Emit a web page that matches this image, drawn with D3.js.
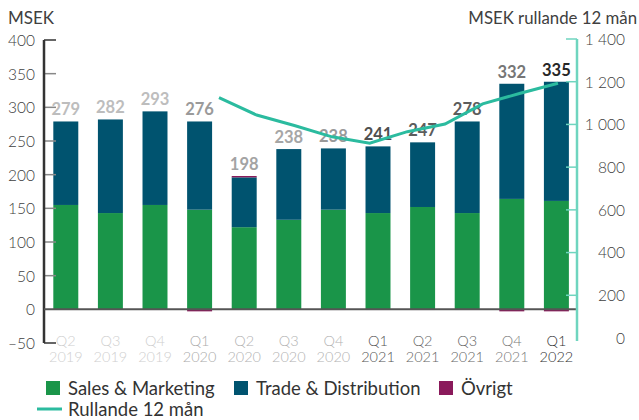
<!DOCTYPE html>
<html>
<head>
<meta charset="utf-8">
<script src="https://cdn.jsdelivr.net/npm/d3@7"></script>
<style>
  body { margin: 0; background: #fff; }
  svg { display: block; font-family: Lato, "Open Sans", sans-serif; }
</style>
</head>
<body>
<div id="chart"></div>
<script>
// data
const quarters = ["Q2 2019", "Q3 2019", "Q4 2019", "Q1 2020", "Q2 2020", "Q3 2020",
  "Q4 2020", "Q1 2021", "Q2 2021", "Q3 2021", "Q4 2021", "Q1 2022"];
const salesMarketing = [155, 143, 155, 148, 122, 133, 148, 143, 152, 143, 164, 161];
const tradeDistribution = [124, 139, 139, 131, 74, 105, 91, 99, 96, 136, 171, 177];
const ovrigt = [0, 0, -1, -3, 2, 0, -1, -1, -1, -1, -3, -3];
const totals = [279, 282, 293, 276, 198, 238, 238, 241, 247, 278, 332, 335];
const rolling12 = [1125, 1044, 995, 942, 912, 966, 1002, 1096, 1146, 1193];
const leftTicks = [-50, 0, 50, 100, 150, 200, 250, 300, 350, 400];
const rightTicks = [0, 200, 400, 600, 800, 1000, 1200, 1400];
const seriesNames = ["Sales & Marketing", "Trade & Distribution", "Övrigt"];
const lineName = "Rullande 12 mån";

// styles
const colors = ["#1a9549", "#00536f", "#8a1a5b"];
const lineColor = "#2bbb9f";
const axisTeal = "#6fd5bf";
const valueShade = ["#bdbdbd", "#bdbdbd", "#bdbdbd", "#9a9a9a", "#a3a3a3", "#a6a6a6",
  "#9a9a9a", "#4f4f4f", "#5c5c5c", "#5c5c5c", "#767676", "#262626"];
const tickShade = ["#cfcfcf", "#cfcfcf", "#cfcfcf", "#ababab", "#b3b3b3", "#b3b3b3",
  "#b3b3b3", "#555", "#666", "#666", "#7a7a7a", "#333"];

const width = 639, height = 420;
const svg = d3.select("#chart").append("svg")
  .attr("width", width).attr("height", height);

// scales
const x = d3.scaleBand().domain(quarters).range([43.5, 578.7])
  .paddingInner(0.44).paddingOuter(0.22);
const yL = d3.scaleLinear().domain([-50, 400]).range([343, 40]);
const yR = d3.scaleLinear().domain([0, 1400]).range([338, 39]);
const xLine = d3.scaleLinear().domain([0, rolling12.length - 1]).range([219, 558]);

// stacked bars
const rows = quarters.map((q, i) => ({
  q, s0: salesMarketing[i], s1: tradeDistribution[i], s2: ovrigt[i]
}));
const stack = d3.stack().keys(["s0", "s1", "s2"]).offset(d3.stackOffsetDiverging);
const layers = stack(rows);

svg.append("g").selectAll("g")
  .data(layers).join("g")
  .attr("fill", (d, i) => colors[i])
  .selectAll("rect")
  .data(d => d).join("rect")
  .attr("x", d => x(d.data.q))
  .attr("width", x.bandwidth())
  .attr("y", d => yL(Math.max(d[0], d[1])))
  .attr("height", d => Math.abs(yL(d[0]) - yL(d[1])));

// value labels
svg.append("g").selectAll("text")
  .data(quarters).join("text")
  .attr("x", d => x(d) + x.bandwidth() / 2)
  .attr("y", (d, i) => yL(salesMarketing[i] + tradeDistribution[i] + Math.max(ovrigt[i], 0)) - 6)
  .attr("text-anchor", "middle")
  .attr("font-size", 16.5)
  .attr("font-weight", 700)
  .attr("fill", (d, i) => valueShade[i])
  .text((d, i) => totals[i]);

// left axis
const left = svg.append("g");
left.selectAll("line.tick")
  .data(leftTicks.filter(t => t !== 0)).join("line")
  .attr("x1", 44).attr("x2", 56)
  .attr("y1", d => yL(d)).attr("y2", d => yL(d))
  .attr("stroke", d => (d === 400 || d === -50) ? "#333" : "#888")
  .attr("stroke-width", 1.5);
left.append("line")
  .attr("x1", 44).attr("x2", 44)
  .attr("y1", yL(400)).attr("y2", yL(-50))
  .attr("stroke", "#333").attr("stroke-width", 2.5);
left.selectAll("text")
  .data(leftTicks).join("text")
  .attr("x", 35)
  .attr("y", d => yL(d))
  .attr("dy", "0.38em")
  .attr("text-anchor", "end")
  .attr("font-size", 15.5)
  .attr("font-weight", 300)
  .attr("fill", "#404040")
  .text(d => d < 0 ? "–" + Math.abs(d) : d);
svg.append("text")
  .attr("x", 8).attr("y", 24)
  .attr("font-size", 17).attr("fill", "#404040")
  .text("MSEK");

// zero line
svg.append("line")
  .attr("x1", 44).attr("x2", 577)
  .attr("y1", yL(0)).attr("y2", yL(0))
  .attr("stroke", "#555").attr("stroke-width", 2);

// right axis
const fmt = d3.formatLocale({ decimal: ",", thousands: " ", grouping: [3], currency: ["", ""] }).format(",d");
const right = svg.append("g");
right.selectAll("line")
  .data(rightTicks.filter(t => t > 0)).join("line")
  .attr("x1", 566).attr("x2", 577)
  .attr("y1", d => yR(d)).attr("y2", d => yR(d))
  .attr("stroke", axisTeal).attr("stroke-width", 1.5);
right.append("line")
  .attr("x1", 577).attr("x2", 577)
  .attr("y1", yR(1400)).attr("y2", yR(0) + 3)
  .attr("stroke", axisTeal).attr("stroke-width", 2.5);
right.selectAll("text")
  .data(rightTicks).join("text")
  .attr("x", 625)
  .attr("y", d => yR(d))
  .attr("dy", "0.38em")
  .attr("text-anchor", "end")
  .attr("font-size", 15.5)
  .attr("font-weight", 300)
  .attr("fill", "#404040")
  .text(d => fmt(d));
svg.append("text")
  .attr("x", 637).attr("y", 24)
  .attr("text-anchor", "end")
  .attr("font-size", 16.8).attr("fill", "#404040")
  .text("MSEK rullande 12 mån");

// rolling line
const line = d3.line()
  .x((d, i) => xLine(i))
  .y(d => yR(d));
svg.append("path")
  .datum(rolling12)
  .attr("d", line)
  .attr("fill", "none")
  .attr("stroke", lineColor)
  .attr("stroke-width", 3);

// x labels
const xl = svg.append("g").selectAll("text")
  .data(quarters).join("text")
  .attr("text-anchor", "middle")
  .attr("font-size", 14.5)
  .attr("font-weight", 300)
  .attr("fill", (d, i) => tickShade[i]);
xl.append("tspan")
  .attr("x", d => x(d) + x.bandwidth() / 2).attr("y", 346)
  .text(d => d.split(" ")[0]);
xl.append("tspan")
  .attr("x", d => x(d) + x.bandwidth() / 2).attr("y", 362)
  .text(d => d.split(" ")[1]);

// legend
const legendX = [46, 234, 439];
const leg = svg.append("g").selectAll("g")
  .data(seriesNames).join("g")
  .attr("transform", (d, i) => `translate(${legendX[i]},381)`);
leg.append("rect")
  .attr("width", 14).attr("height", 14)
  .attr("fill", (d, i) => colors[i]);
leg.append("text")
  .attr("x", 22).attr("y", 13.5)
  .attr("font-size", 18.5).attr("fill", "#333")
  .text(d => d);
const legLine = svg.append("g").attr("transform", "translate(37,409)");
legLine.append("line")
  .attr("x1", 0).attr("x2", 25)
  .attr("stroke", lineColor).attr("stroke-width", 3);
legLine.append("text")
  .attr("x", 31).attr("y", 6.5)
  .attr("font-size", 18.5).attr("fill", "#333")
  .text(lineName);
</script>
</body>
</html>
